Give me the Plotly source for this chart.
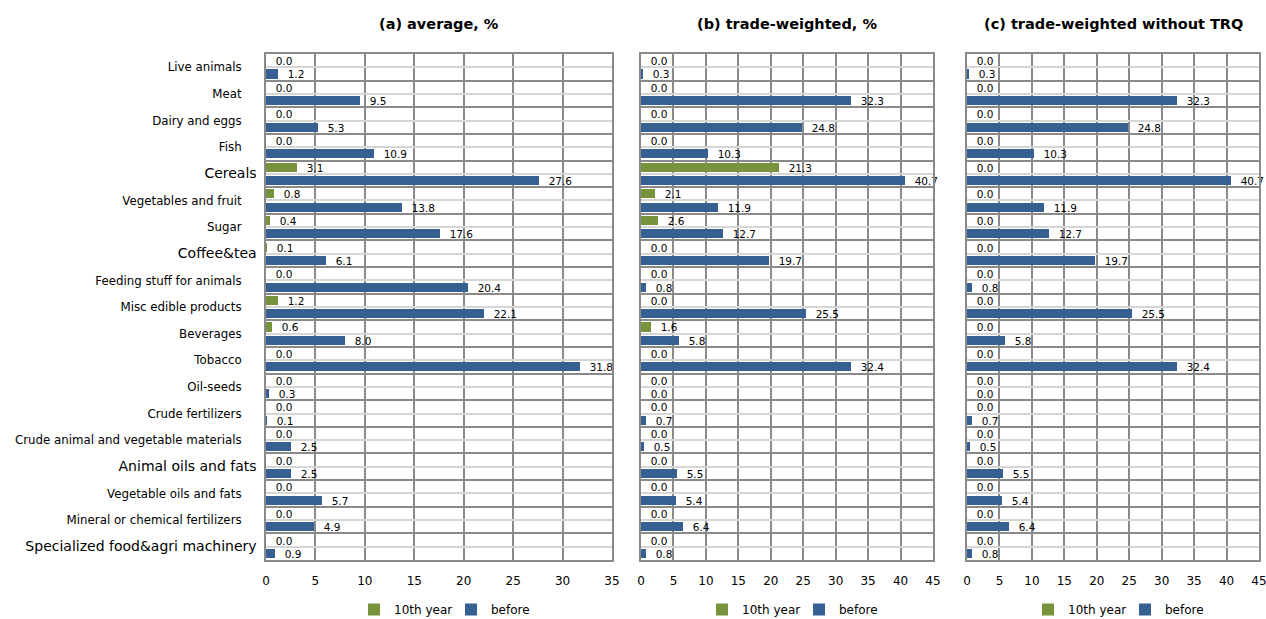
import plotly.graph_objects as go

# Product groups, top to bottom
categories = [
    "Live animals", "Meat", "Dairy and eggs", "Fish", "Cereals",
    "Vegetables and fruit", "Sugar", "Coffee&tea", "Feeding stuff for animals",
    "Misc edible products", "Beverages", "Tobacco", "Oil-seeds",
    "Crude fertilizers", "Crude animal and vegetable materials",
    "Animal oils and fats", "Vegetable oils and fats",
    "Mineral or chemical fertilizers", "Specialized food&agri machinery",
]
# Groups whose axis label is set in a larger type
large_labels = ["Cereals", "Coffee&tea", "Animal oils and fats",
                "Specialized food&agri machinery"]

series_names = ["10th year", "before"]

avg_10th = [0.0, 0.0, 0.0, 0.0, 3.1, 0.8, 0.4, 0.1, 0.0, 1.2, 0.6, 0.0, 0.0,
            0.0, 0.0, 0.0, 0.0, 0.0, 0.0]
avg_before = [1.2, 9.5, 5.3, 10.9, 27.6, 13.8, 17.6, 6.1, 20.4, 22.1, 8.0,
              31.8, 0.3, 0.1, 2.5, 2.5, 5.7, 4.9, 0.9]

tw_10th = [0.0, 0.0, 0.0, 0.0, 21.3, 2.1, 2.6, 0.0, 0.0, 0.0, 1.6, 0.0, 0.0,
           0.0, 0.0, 0.0, 0.0, 0.0, 0.0]
tw_before = [0.3, 32.3, 24.8, 10.3, 40.7, 11.9, 12.7, 19.7, 0.8, 25.5, 5.8,
             32.4, 0.0, 0.7, 0.5, 5.5, 5.4, 6.4, 0.8]

twn_10th = [0.0] * 19
twn_before = [0.3, 32.3, 24.8, 10.3, 40.7, 11.9, 12.7, 19.7, 0.8, 25.5, 5.8,
              32.4, 0.0, 0.7, 0.5, 5.5, 5.4, 6.4, 0.8]

panel_titles = ["(a) average, %", "(b) trade-weighted, %",
                "(c) trade-weighted without TRQ"]
x_max = [35, 45, 45]

panels = [(avg_10th, avg_before), (tw_10th, tw_before), (twn_10th, twn_before)]

GREEN = "#77933C"
BLUE = "#376092"
DARK_GRID = "#8A8A8A"
LIGHT_GRID = "#D6D6D6"
FONT = "DejaVu Sans"
NBSP = "\u00a0"

W, H = 1266, 619
x_domains = [(266 / W, 612 / W), (641 / W, 933 / W), (967 / W, 1259 / W)]
y_domain = (1 - 560 / H, 1 - 54 / H)

idx = list(range(len(categories)))

# Larger labels sit a little further right than the regular ones
tick_text = []
for c in categories:
    if c in large_labels:
        tick_text.append(f"<span style='font-size:14px'>{c}</span>")
    else:
        tick_text.append(c + NBSP * 4)

fig = go.Figure()

for p, (s10, sbef) in enumerate(panels):
    n = "" if p == 0 else str(p + 1)
    for name, vals, color, off in [(series_names[0], s10, GREEN, -0.42),
                                   (series_names[1], sbef, BLUE, 0.08)]:
        fig.add_trace(go.Bar(
            x=vals, y=idx, orientation="h", name=name,
            marker=dict(color=color, line=dict(width=0)),
            width=0.34, offset=off,
            texttemplate=NBSP * 2 + "%{x:.1f}", textposition="outside",
            constraintext="none",
            textfont=dict(family=FONT, size=10.5, color="#000000"),
            cliponaxis=False,
            xaxis="x" + n, yaxis="y" + n,
            legend="legend" + n,
            showlegend=True,
        ))

    xa = dict(
        domain=list(x_domains[p]), range=[0, x_max[p]], dtick=5, tick0=0,
        showgrid=True, gridcolor=DARK_GRID, gridwidth=2,
        showline=True, linecolor=DARK_GRID, linewidth=2, mirror=True,
        zeroline=False, ticks="", anchor="y" + n, automargin=False,
        ticklabeloverflow="allow",
        tickfont=dict(family=FONT, size=12, color="#000000"),
        ticklabelstandoff=9, fixedrange=True,
    )
    ya = dict(
        domain=list(y_domain), range=[18.5, -0.5],
        tickvals=idx, ticktext=tick_text if p == 0 else [""] * len(idx),
        showticklabels=(p == 0),
        showgrid=True, gridcolor=LIGHT_GRID, gridwidth=2,
        minor=dict(tickvals=[i + 0.5 for i in idx[:-1]], showgrid=True,
                   gridcolor=DARK_GRID, gridwidth=2, ticks=""),
        showline=True, linecolor=DARK_GRID, linewidth=2, mirror=True,
        zeroline=False, ticks="", anchor="x" + n, automargin=False,
        ticklabeloverflow="allow",
        tickfont=dict(family=FONT, size=11.8, color="#000000"),
        ticklabelstandoff=5, fixedrange=True,
    )
    fig.layout["xaxis" + n] = xa
    fig.layout["yaxis" + n] = ya

    cx = (x_domains[p][0] + x_domains[p][1]) / 2
    fig.layout["legend" + n] = dict(
        orientation="h", x=cx + 12 / W, xanchor="center", y=-5 / H,
        yanchor="bottom", font=dict(family=FONT, size=12, color="#000000"),
        itemwidth=30, entrywidth=52, entrywidthmode="pixels",
        traceorder="normal", bgcolor="rgba(0,0,0,0)",
        itemclick=False, itemdoubleclick=False,
    )

    fig.add_annotation(
        text=f"<b>{panel_titles[p]}</b>", x=cx, y=1 - 24 / H,
        xref="paper", yref="paper", xanchor="center", yanchor="middle",
        showarrow=False, font=dict(family=FONT, size=14.5, color="#000000"),
    )

fig.update_layout(
    width=W, height=H, margin=dict(l=0, r=0, t=0, b=0, autoexpand=False),
    paper_bgcolor="#FFFFFF", plot_bgcolor="#FFFFFF",
    barmode="overlay", bargap=0,
)

fig.write_html("out.html")
